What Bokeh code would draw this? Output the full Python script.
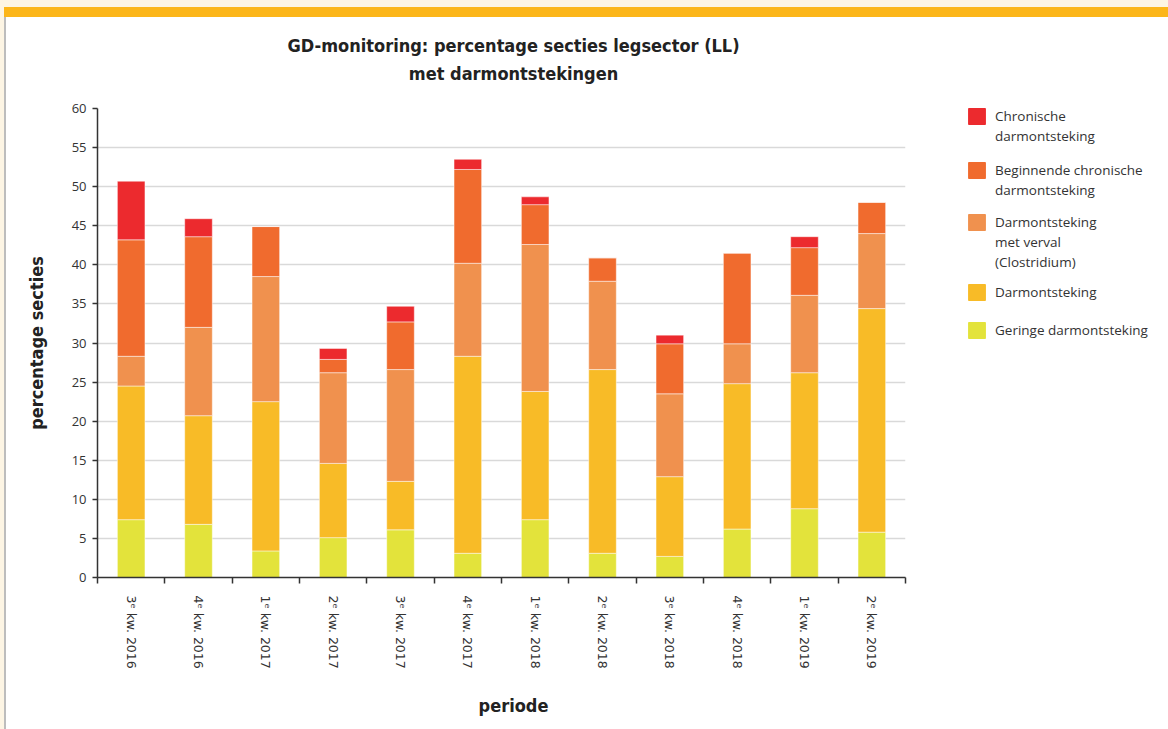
from bokeh.plotting import figure
from bokeh.models import (ColumnDataSource, FixedTicker, CustomJSTickFormatter, Legend,
                          LegendItem, Label, Div, Range1d)
from bokeh.layouts import column, row
from bokeh.embed import file_html
from bokeh.resources import INLINE

categories = ["3\u1d49 kw. 2016", "4\u1d49 kw. 2016", "1\u1d49 kw. 2017", "2\u1d49 kw. 2017",
              "3\u1d49 kw. 2017", "4\u1d49 kw. 2017", "1\u1d49 kw. 2018", "2\u1d49 kw. 2018",
              "3\u1d49 kw. 2018", "4\u1d49 kw. 2018", "1\u1d49 kw. 2019", "2\u1d49 kw. 2019"]

geringe = [7.4, 6.8, 3.4, 5.1, 6.1, 3.1, 7.4, 3.1, 2.7, 6.2, 8.8, 5.8]
darmontsteking = [17.1, 13.9, 19.1, 9.5, 6.2, 25.2, 16.4, 23.5, 10.2, 18.6, 17.4, 28.6]
clostridium = [3.8, 11.3, 16.0, 11.6, 14.3, 11.9, 18.8, 11.3, 10.6, 5.1, 9.9, 9.6]
beginnend = [14.9, 11.6, 6.4, 1.7, 6.1, 12.0, 5.1, 3.0, 6.4, 11.6, 6.1, 4.0]
chronisch = [7.5, 2.3, 0.0, 1.4, 2.0, 1.3, 1.0, 0.0, 1.1, 0.0, 1.4, 0.0]

series_keys = ["geringe", "darm", "clos", "begin", "chron"]
series_labels = ["Geringe darmontsteking", "Darmontsteking",
                 "Darmontsteking\nmet verval\n(Clostridium)",
                 "Beginnende chronische\ndarmontsteking", "Chronische\ndarmontsteking"]
series_colors = ["#E3E33B", "#F8BB27", "#F0914E", "#F06B2E", "#EC2A2E"]

y_ticks = [0, 5, 10, 15, 20, 25, 30, 35, 40, 45, 50, 55, 60]

title_lines = ["GD-monitoring: percentage secties legsector (LL)", "met darmontstekingen"]
x_title = "periode"
y_title = "percentage secties"

n = len(categories)
source = ColumnDataSource(dict(
    x=[i + 0.5 for i in range(n)],
    geringe=geringe, darm=darmontsteking, clos=clostridium,
    begin=beginnend, chron=chronisch,
))

TITLE_FONT = "DejaVu Sans Condensed"


def blank_fig(w, h, xr, yr):
    f = figure(width=w, height=h, output_backend="svg", toolbar_location=None,
               x_range=xr, y_range=yr, x_axis_location=None, y_axis_location=None,
               min_border=0)
    f.grid.visible = False
    f.outline_line_color = None
    f.background_fill_color = "white"
    f.border_fill_color = "white"
    return f


# ---------------- main chart ----------------
p = figure(width=901, height=587, output_backend="svg", toolbar_location=None,
           x_range=Range1d(0, n), y_range=Range1d(0, 60),
           min_border_left=91, min_border_right=2, min_border_top=10,
           min_border_bottom=108)
p.background_fill_color = "white"
p.border_fill_color = "white"
p.outline_line_color = None

renderers = p.vbar_stack(series_keys, x="x", width=0.41, source=source,
                         color=series_colors, line_color="white", line_alpha=0.6,
                         line_width=0.8)

xa = p.xaxis[0]
xa.ticker = FixedTicker(ticks=[i + 0.5 for i in range(n)],
                        minor_ticks=list(range(n + 1)))
xa.formatter = CustomJSTickFormatter(args=dict(cats=categories),
                                     code="return cats[Math.floor(tick)];")
xa.major_label_orientation = "vertical"
xa.major_tick_out = 0
xa.major_tick_in = 0
xa.minor_tick_out = 6
xa.minor_tick_in = 0
xa.minor_tick_line_color = "#333333"
xa.minor_tick_line_width = 1.5
xa.axis_line_color = "#333333"
xa.axis_line_width = 1.5
xa.major_label_standoff = 12
xa.major_label_text_font = "DejaVu Sans"
xa.major_label_text_font_size = "12.5px"
xa.major_label_text_color = "#333333"

ya = p.yaxis[0]
ya.ticker = FixedTicker(ticks=y_ticks)
ya.minor_tick_line_color = None
ya.major_tick_out = 5
ya.major_tick_in = 0
ya.major_tick_line_color = "#333333"
ya.major_tick_line_width = 1.5
ya.axis_line_color = "#333333"
ya.axis_line_width = 1.5
ya.major_label_standoff = 6
ya.major_label_text_font = "Open Sans"
ya.major_label_text_font_size = "13px"
ya.major_label_text_color = "#333333"
ya.axis_label = y_title
ya.axis_label_text_font = TITLE_FONT
ya.axis_label_text_font_style = "bold"
ya.axis_label_text_font_size = "18px"
ya.axis_label_text_color = "#222222"
ya.axis_label_standoff = 22

p.xgrid.grid_line_color = None
p.ygrid.grid_line_color = "#D9D9D9"
p.ygrid.grid_line_width = 1.5

# ---------------- title strip (frame aligned with main frame: page x 97..905) ------
tf = blank_fig(901, 81, Range1d(97, 905), Range1d(98, 17))
for txt, yy in zip(title_lines, [45, 73]):
    tf.add_layout(Label(x=513, y=yy, text=txt, text_align="center",
                        text_baseline="middle", text_font=TITLE_FONT,
                        text_font_style="bold", text_font_size="18px",
                        text_color="#222222"))

# ---------------- x-axis title strip ----------------
bf = blank_fig(901, 44, Range1d(97, 905), Range1d(729, 685))
bf.add_layout(Label(x=513, y=705, text=x_title, text_align="center",
                    text_baseline="middle", text_font=TITLE_FONT,
                    text_font_style="bold", text_font_size="18px",
                    text_color="#222222"))

# ---------------- legend panel ----------------
lf = blank_fig(261, 712, Range1d(0, 261), Range1d(0, 712))
legend_tops = [106, 160, 212, 282, 320]     # page y of each legend group (top)
order = list(range(len(series_keys)))[::-1]  # chronisch first
nan = float("nan")
for top_y, idx in zip(legend_tops, order):
    lines = series_labels[idx].split("\n")
    items = []
    for j, line in enumerate(lines):
        alpha = 1.0 if j == 0 else 0.0
        r = lf.vbar(x=[nan], top=[nan], width=1, fill_color=series_colors[idx],
                    line_color=series_colors[idx], fill_alpha=alpha, line_alpha=alpha)
        items.append(LegendItem(label=line, renderers=[r]))
    h = 20 * len(lines)
    lg = Legend(items=items, location=(59, 729 - (top_y + h)), orientation="vertical",
                glyph_width=21, glyph_height=20, label_height=20, label_standoff=8,
                spacing=0, padding=0, margin=0, border_line_alpha=0,
                background_fill_alpha=0, label_text_font="Open Sans",
                label_text_font_size="13.5px", label_text_color="#333333",
                label_text_baseline="middle")
    lf.add_layout(lg)

cream = "#FDF5E4"
top = Div(width=1168, height=7, margin=0, styles={"background-color": cream})
band = row(Div(width=4, height=10, margin=0, styles={"background-color": cream}),
           Div(width=1164, height=10, margin=0, styles={"background-color": "#FCB61A"}),
           spacing=0)
body = row(Div(width=4, height=712, margin=0, styles={"background-color": cream}),
           Div(width=2, height=712, margin=0, styles={"background-color": "#BDBDBD"}),
           column(tf, p, bf, spacing=0), lf, spacing=0)
layout = column(top, band, body, spacing=0)

open("out.html", "w").write(file_html(layout, INLINE))
